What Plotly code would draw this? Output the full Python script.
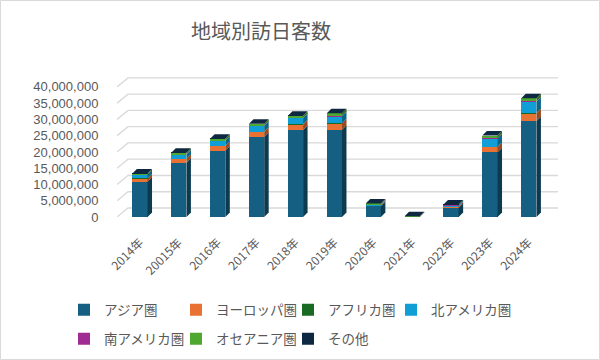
import plotly.graph_objects as go

# ---------------- data ----------------
years = ["2014年", "20015年", "2016年", "2017年", "2018年", "2019年",
         "2020年", "2021年", "2022年", "2023年", "2024年"]
asia = [10819000, 16646000, 20428000, 24716000, 26732000, 26819000,
        3403000, 166000, 2848000, 19937000, 29500000]
europe = [1049000, 1245000, 1421000, 1524000, 1736000, 1986000,
          263000, 38000, 353000, 1620000, 2420000]
africa = [29000, 34000, 34000, 33000, 41000, 48000,
          7000, 3000, 12000, 40000, 55000]
north_america = [1091000, 1311000, 1572000, 1773000, 1941000, 2188000,
                 283000, 27000, 470000, 2631000, 3440000]
south_america = [42000, 52000, 73000, 77000, 93000, 110000,
                 15000, 2000, 20000, 90000, 125000]
oceania = [382000, 434000, 513000, 569000, 619000, 718000,
           144000, 4000, 130000, 736000, 1000000]
other = [2000, 2000, 2000, 2000, 2000, 2000, 1000, 500, 1000, 2000, 2000]

series_names = ["アジア圏", "ヨーロッパ圏", "アフリカ圏", "北アメリカ圏",
                "南アメリカ圏", "オセアニア圏", "その他"]
series_values = [asia, europe, africa, north_america, south_america, oceania, other]
y_ticks = [0, 5000000, 10000000, 15000000, 20000000, 25000000,
           30000000, 35000000, 40000000]

# ---------------- style ----------------
colors = ["#156082", "#E97132", "#196B24", "#0F9ED5", "#A02B93", "#4EA72E", "#0E2841"]
side_colors = ["#0C3B50", "#9A4A1F", "#0F4216", "#09668A", "#681C60", "#326C1E", "#08182A"]
top_color = "#0E2841"
grid_color = "#D9D9D9"
text_color = "#595959"
cjk_font = "Noto Sans CJK JP, Noto Sans, sans-serif"

fig_w, fig_h = 600, 360
ml, mr, mt, mb = 117, 42, 71, 143
x_range = [-0.59, 10.75]
y_range = [0, 44.9e6]
plot_w = fig_w - ml - mr
plot_h = fig_h - mt - mb
px_x = plot_w / (x_range[1] - x_range[0])      # px per category unit
px_y = plot_h / (y_range[1] - y_range[0])      # px per value unit

bar_w = 0.39
dx = 4.5 / px_x
dy = 4.5 / px_y
gdx = 11 / px_x
gdy = 9 / px_y

# legend placement: (left x, centre y) of each entry, in pixels
legend_pos = [(64, 310), (176, 310), (288, 310), (391, 310),
              (64, 339), (176, 339), (288, 339)]

xs = list(range(len(years)))

fig = go.Figure()
legend_layout = {}
for k, (name, vals, col) in enumerate(zip(series_names, series_values, colors)):
    lid = "legend" if k == 0 else f"legend{k + 1}"
    fig.add_trace(go.Bar(x=xs, y=vals, name=name, width=bar_w, legend=lid,
                         marker=dict(color=col, line=dict(width=0))))
    lx, ly = legend_pos[k]
    legend_layout[lid] = dict(
        orientation="h", xref="container", yref="container",
        x=lx / fig_w, y=1 - ly / fig_h, xanchor="left", yanchor="middle",
        font=dict(size=13.5, color=text_color, family=cjk_font),
        itemwidth=30, bgcolor="rgba(0,0,0,0)")

shapes = []
# gridlines with perspective (back wall)
for v in y_ticks:
    path = (f"M {x_range[0]},{v} L {x_range[0] + gdx},{v + gdy} "
            f"L {x_range[1]},{v + gdy}")
    shapes.append(dict(type="path", xref="x", yref="y", path=path,
                       line=dict(color=grid_color, width=1.3), layer="below"))

# 3D side faces and top faces computed from the data
for i in xs:
    base = 0
    xr = i + bar_w / 2
    xl = i - bar_w / 2
    for vals, scol in zip(series_values, side_colors):
        top = base + vals[i]
        path = (f"M {xr},{base} L {xr + dx},{base + dy} L {xr + dx},{top + dy} "
                f"L {xr},{top} Z")
        shapes.append(dict(type="path", xref="x", yref="y", path=path,
                           fillcolor=scol, line=dict(width=0), layer="above"))
        base = top
    path = (f"M {xl},{base} L {xl + dx},{base + dy} L {xr + dx},{base + dy} "
            f"L {xr},{base} Z")
    shapes.append(dict(type="path", xref="x", yref="y", path=path,
                       fillcolor=top_color, line=dict(width=0), layer="above"))

# outer border of the chart area
shapes.append(dict(type="rect", xref="paper", yref="paper",
                   x0=(0.5 - ml) / plot_w, x1=(fig_w - 0.5 - ml) / plot_w,
                   y0=(fig_h - mb - (fig_h - 0.5)) / plot_h,
                   y1=(fig_h - mb - 0.5) / plot_h,
                   line=dict(color="#D9D9D9", width=1), fillcolor="rgba(0,0,0,0)"))

fig.update_layout(
    width=fig_w, height=fig_h,
    margin=dict(l=ml, r=mr, t=mt, b=mb, autoexpand=False),
    paper_bgcolor="white", plot_bgcolor="white",
    barmode="stack", bargap=0,
    font=dict(family=cjk_font, color=text_color, size=12),
    title=dict(text="地域別訪日客数", x=261 / fig_w, xref="container", xanchor="center",
               y=1 - 32 / fig_h, yref="container", yanchor="middle",
               font=dict(size=20, color=text_color, family=cjk_font)),
    xaxis=dict(range=x_range, tickmode="array", tickvals=xs, ticktext=years,
               tickangle=-45, showgrid=False, zeroline=False, showline=False,
               ticks="outside", ticklen=13, tickcolor="rgba(0,0,0,0)", automargin=False,
               tickfont=dict(size=12, color=text_color, family=cjk_font)),
    yaxis=dict(range=y_range, tickmode="array", tickvals=y_ticks,
               tickformat=",d", showgrid=False, zeroline=False, showline=False,
               ticks="outside", ticklen=15, tickcolor="rgba(0,0,0,0)", automargin=False,
               tickfont=dict(size=13, color=text_color,
                             family="Liberation Sans, Arial, sans-serif")),
    shapes=shapes,
    showlegend=True,
    hovermode=False,
    **legend_layout,
)

fig.write_html("out.html", config={"displayModeBar": False},
               post_script="document.body.style.margin='0px';")
